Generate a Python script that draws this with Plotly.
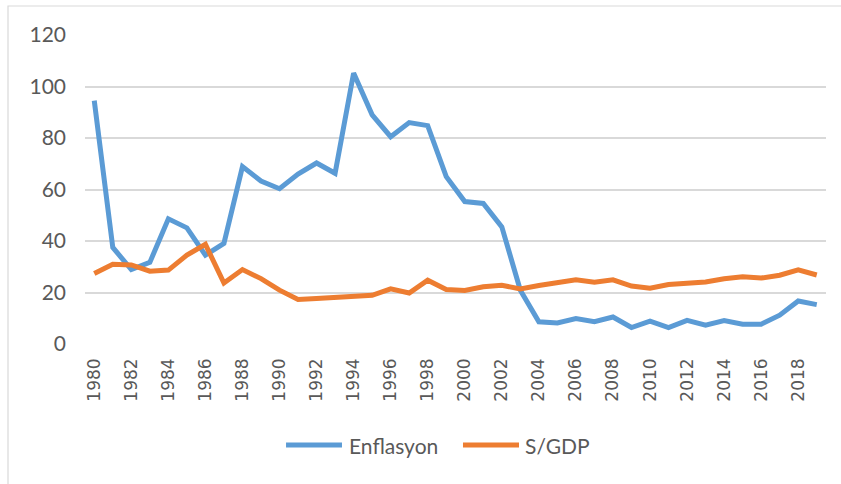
import plotly.graph_objects as go

years = list(range(1980, 2020))
enflasyon = [94.5, 37.5, 28.9, 31.7, 48.6, 45.1, 34.5, 39.1, 68.9, 63.3,
             60.3, 66.0, 70.3, 66.3, 105.2, 89.0, 80.5, 86.0, 84.8, 65.0,
             55.3, 54.6, 45.5, 20.9, 8.6, 8.2, 9.9, 8.7, 10.5, 6.4,
             8.9, 6.4, 9.2, 7.3, 9.1, 7.7, 7.7, 11.2, 16.7, 15.3]
s_gdp = [27.4, 31.0, 30.7, 28.3, 28.7, 34.5, 38.7, 23.7, 28.9, 25.4,
         20.9, 17.3, 17.7, 18.1, 18.4, 18.9, 21.4, 19.8, 24.8, 21.2,
         20.8, 22.2, 22.8, 21.4, 22.7, 23.9, 24.9, 24.0, 24.9, 22.5,
         21.7, 23.1, 23.5, 24.1, 25.3, 26.1, 25.6, 26.7, 28.8, 26.8]
x_ticks = list(range(1980, 2019, 2))
y_ticks = [0, 20, 40, 60, 80, 100, 120]
series_names = ["Enflasyon", "S/GDP"]
series_colors = ["#5B9BD5", "#ED7D31"]

txt = "#595959"
grid = "#D9D9D9"
fam = "Lato, Carlito, Calibri, sans-serif"

fig = go.Figure()
for name, vals, col in zip(series_names, [enflasyon, s_gdp], series_colors):
    fig.add_trace(go.Scatter(x=years, y=vals, mode="lines", name=name,
                             line=dict(color=col, width=5), showlegend=False))

# custom legend (longer line samples as in the reference)
shapes = [dict(type="rect", xref="paper", yref="paper", x0=-0.1039, x1=1.1,
               y0=-0.5, y1=1.0939, line=dict(color=grid, width=1.2),
               fillcolor="rgba(0,0,0,0)", layer="below")]
annotations = []
leg_y = -0.3269
leg_pos = [(0.2713, 0.3468, 0.3536), (0.5101, 0.5857, 0.5911)]
for name, col, (x0, x1, xt) in zip(series_names, series_colors, leg_pos):
    shapes.append(dict(type="line", xref="paper", yref="paper", x0=x0, x1=x1,
                       y0=leg_y, y1=leg_y, line=dict(color=col, width=5)))
    annotations.append(dict(xref="paper", yref="paper", x=xt, y=leg_y, text=name,
                            showarrow=False, xanchor="left", yanchor="middle",
                            font=dict(family=fam, size=21, color=txt)))

fig.update_layout(
    width=841, height=484,
    margin=dict(l=85, r=15, t=35, b=140),
    paper_bgcolor="white", plot_bgcolor="white",
    font=dict(family=fam, color=txt, size=20),
    xaxis=dict(range=[1979.5, 2019.5], tickvals=x_ticks,
               ticktext=[str(v) for v in x_ticks], tickangle=-90,
               showgrid=False, zeroline=False, showline=False,
               ticks="", ticklabelstandoff=10,
               tickfont=dict(family="DejaVu Sans, sans-serif", size=17, color=txt)),
    yaxis=dict(range=[0, 120], tickvals=y_ticks, showgrid=True, gridcolor=grid,
               gridwidth=1.5, zeroline=False, showline=False, ticks="",
               ticklabelstandoff=18,
               tickfont=dict(family=fam, size=21, color=txt)),
    showlegend=False,
    hovermode=False,
    shapes=shapes,
    annotations=annotations,
)

fig.write_html("out.html", config={"displayModeBar": False},
               post_script="document.body.style.margin='0';document.body.style.overflow='hidden';")
